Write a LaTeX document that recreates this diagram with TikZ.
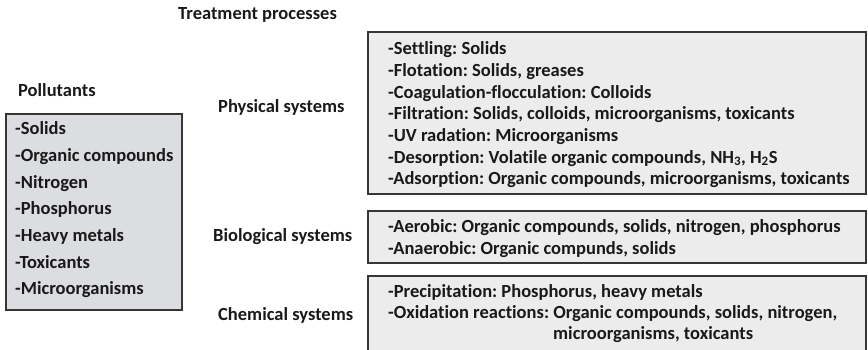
\documentclass[tikz,border=0pt]{standalone}
\usepackage{fontspec}
\setmainfont{Carlito}[Ligatures=CommonOff]
\definecolor{polgrey}{HTML}{DCDDE0}
\definecolor{procgrey}{HTML}{EBECEB}
\definecolor{edgegrey}{HTML}{363636}
\frenchspacing
\begin{document}
\begin{tikzpicture}[x=1pt,y=-1pt,
    txt/.style={anchor=base west,inner sep=0pt,text=black!90,font=\fontsize{18.5}{21}\selectfont\bfseries},
    frame/.style={draw=edgegrey,line width=1.4pt}]
   \useasboundingbox (0,0) rectangle (868,350);
   \clip (0,0) rectangle (868,350);
   % headings
   \node[txt] (treat) at (178,20) {Treatment processes};
   \node[txt] (pollut) at (18,97) {Pollutants};
   \node[txt] (phys) at (218,113) {Physical systems};
   \node[txt] (bio) at (213,241) {Biological systems};
   \node[txt] (chem) at (218,320) {Chemical systems};
   % pollutants box
   \draw[frame,fill=polgrey] (6,114) rectangle (182,310);
   \node[txt] (p1) at (15,135) {-Solids};
   \node[txt] (p2) at (15,161.6) {-Organic compounds};
   \node[txt] (p3) at (15,188.2) {-Nitrogen};
   \node[txt] (p4) at (15,214.8) {-Phosphorus};
   \node[txt] (p5) at (15,241.4) {-Heavy metals};
   \node[txt] (p6) at (15,268) {-Toxicants};
   \node[txt] (p7) at (15,294.6) {-Microorganisms};
   % physical systems box
   \draw[frame,fill=procgrey] (368,32) rectangle (866,194);
   \node[txt] (ph1) at (388,54.7) {-Settling: Solids};
   \node[txt] (ph2) at (388,76.4) {-Flotation: Solids, greases};
   \node[txt] (ph3) at (388,98.1) {-Coagulation-flocculation: Colloids};
   \node[txt] (ph4) at (388,119.8) {-Filtration: Solids, colloids, microorganisms, toxicants};
   \node[txt] (ph5) at (388,141.5) {-UV radation: Microorganisms};
   \node[txt] (ph6) at (388,163.2) {-Desorption: Volatile organic compounds, NH\textsubscript{3}, H\textsubscript{2}S};
   \node[txt] (ph7) at (388,184.9) {-Adsorption: Organic compounds, microorganisms, toxicants};
   % biological systems box
   \draw[frame,fill=procgrey] (368,211) rectangle (866,263);
   \node[txt] (bi1) at (388,233) {-Aerobic: Organic compounds, solids, nitrogen, phosphorus};
   \node[txt] (bi2) at (388,254) {-Anaerobic: Organic compunds, solids};
   % chemical systems box (runs off the bottom)
   \draw[frame,fill=procgrey] (368,276) rectangle (866,362);
   \node[txt] (ch1) at (388,297) {-Precipitation: Phosphorus, heavy metals};
   \node[txt] (ch2) at (388,318) {-Oxidation reactions: Organic compounds, solids, nitrogen,};
   \node[txt] (ch3) at (553,339) {microorganisms, toxicants};
\end{tikzpicture}
\end{document}
